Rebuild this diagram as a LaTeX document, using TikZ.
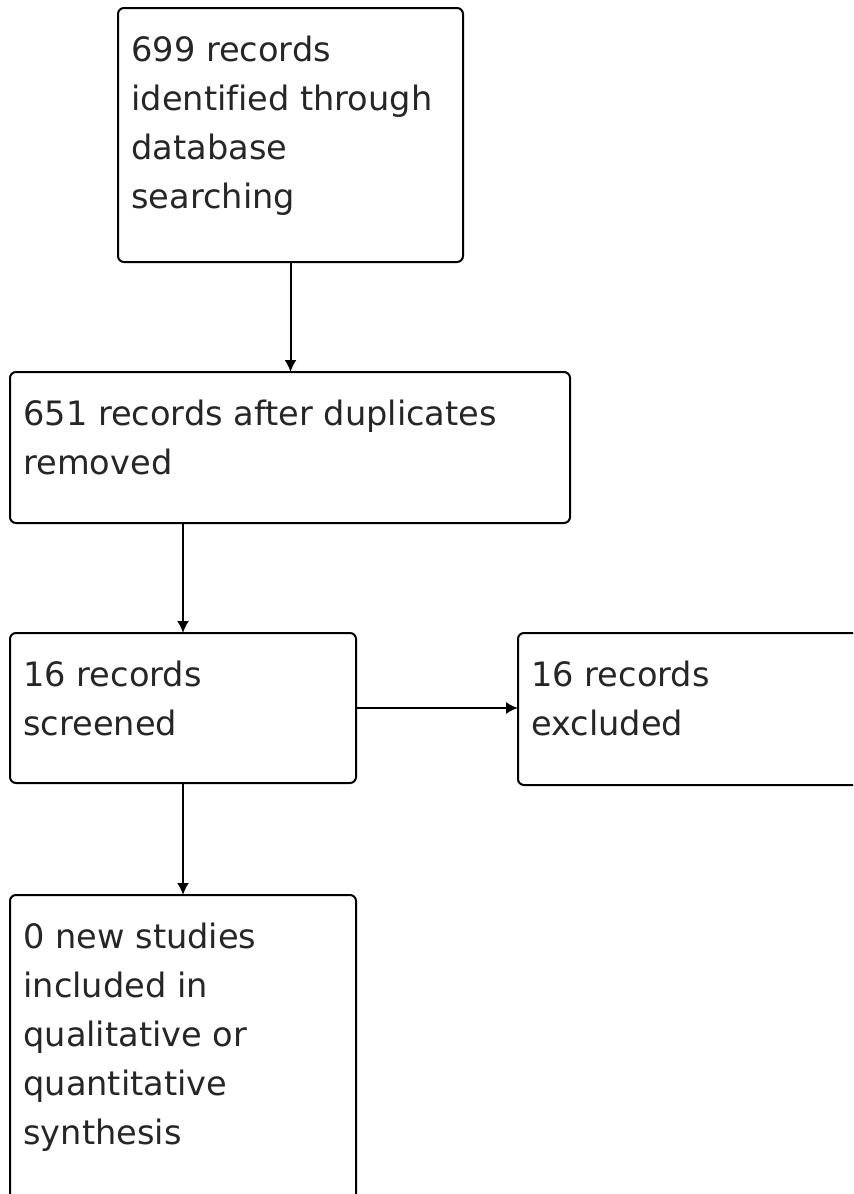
\documentclass[tikz,border=0pt]{standalone}
\usepackage{fontspec}
\setmainfont[Ligatures=NoCommon]{DejaVu Sans}
\usetikzlibrary{arrows.meta}
\tikzset{
  flowbox/.style={draw,line width=1pt,rounded corners=3pt,inner sep=0pt,outer sep=0pt,anchor=north west},
  boxtext/.style={anchor=north west,align=left,inner sep=0pt,font=\fontsize{16.8}{24.5}\selectfont,text=black!85},
  flowarrow/.style={-{Latex[length=6pt,width=6pt]},line width=1pt}
}
\begin{document}
\begin{tikzpicture}[x=0.5pt,y=-0.5pt]
        \path[use as bounding box,clip] (0,0) rectangle (853,1194);
        \fill[white] (0,0) rectangle (853,1194);
        \coordinate (p1) at (118,8);
        \coordinate (p2) at (10,372);
        \coordinate (p3) at (10,633);
        \coordinate (p4) at (518,633);
        \coordinate (p5) at (10,895);
        \node[flowbox,minimum width=172.5pt,minimum height=127pt] (identified) at (p1) {};
        \node[flowbox,minimum width=280pt,minimum height=75.5pt] (duplicates) at (p2) {};
        \node[flowbox,minimum width=173pt,minimum height=75pt] (screened) at (p3) {};
        \node[flowbox,minimum width=200pt,minimum height=76pt] (excluded) at (p4) {};
        \node[flowbox,minimum width=173pt,minimum height=175pt] (included) at (p5) {};
        \node[boxtext] (identifiedtext) at ([shift={(13,28)}]identified.north west) {699 records\\identified through\\database\\searching};
        \node[boxtext] (duplicatestext) at ([shift={(13,28)}]duplicates.north west) {651 records after duplicates\\removed};
        \node[boxtext] (screenedtext) at ([shift={(13,28)}]screened.north west) {16 records\\screened};
        \node[boxtext] (excludedtext) at ([shift={(13,28)}]excluded.north west) {16 records\\excluded};
        \node[boxtext] (includedtext) at ([shift={(13,28)}]included.north west) {0 new studies\\included in\\qualitative or\\quantitative\\synthesis};
        \draw[flowarrow] (identified.south) -- (identified.south |- duplicates.north);
        \draw[flowarrow] (screened.north |- duplicates.south) -- (screened.north);
        \draw[flowarrow] (screened.east) -- (excluded.west |- screened.east);
        \draw[flowarrow] (screened.south) -- (included.north);
\end{tikzpicture}
\end{document}
